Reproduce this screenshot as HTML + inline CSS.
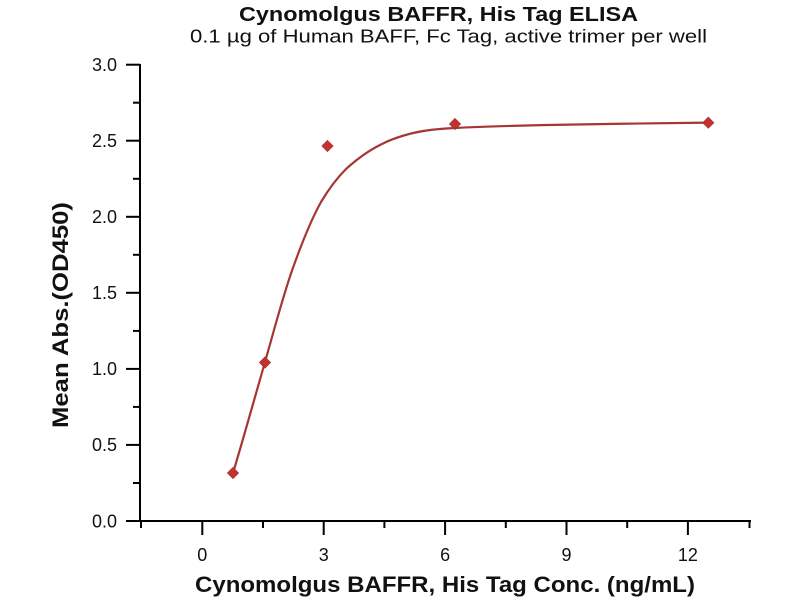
<!DOCTYPE html>
<html>
<head>
<meta charset="utf-8">
<style>
  html, body { margin:0; padding:0; background:#ffffff; }
  body { width:800px; height:600px; overflow:hidden; }
  svg text { font-family: "Liberation Sans", "DejaVu Sans", sans-serif; fill:#111; }
</style>
</head>
<body>
<svg width="800" height="600" viewBox="0 0 800 600" xmlns="http://www.w3.org/2000/svg">
  <rect width="800" height="600" fill="#ffffff"/>

  <!-- Title -->
  <text x="239" y="21" font-size="20" font-weight="bold" textLength="399" lengthAdjust="spacingAndGlyphs">Cynomolgus BAFFR, His Tag ELISA</text>
  <text x="190" y="42.5" font-size="18" textLength="517" lengthAdjust="spacingAndGlyphs">0.1 µg of Human BAFF, Fc Tag, active trimer per well</text>

  <!-- Axes -->
  <g stroke="#000" stroke-width="2" fill="none">
    <line x1="140" y1="64" x2="140" y2="522"/>
    <line x1="139" y1="521" x2="751" y2="521"/>
    <!-- y major ticks -->
    <line x1="126" y1="64.7" x2="140" y2="64.7"/>
    <line x1="126" y1="140.7" x2="140" y2="140.7"/>
    <line x1="126" y1="216.8" x2="140" y2="216.8"/>
    <line x1="126" y1="292.8" x2="140" y2="292.8"/>
    <line x1="126" y1="368.9" x2="140" y2="368.9"/>
    <line x1="126" y1="444.9" x2="140" y2="444.9"/>
    <line x1="126" y1="521" x2="140" y2="521"/>
    <!-- y minor ticks -->
    <line x1="133" y1="102.7" x2="140" y2="102.7"/>
    <line x1="133" y1="178.8" x2="140" y2="178.8"/>
    <line x1="133" y1="254.8" x2="140" y2="254.8"/>
    <line x1="133" y1="330.9" x2="140" y2="330.9"/>
    <line x1="133" y1="406.9" x2="140" y2="406.9"/>
    <line x1="133" y1="483" x2="140" y2="483"/>
    <!-- x major ticks -->
    <line x1="202.3" y1="521" x2="202.3" y2="535"/>
    <line x1="323.7" y1="521" x2="323.7" y2="535"/>
    <line x1="445.1" y1="521" x2="445.1" y2="535"/>
    <line x1="566.5" y1="521" x2="566.5" y2="535"/>
    <line x1="687.9" y1="521" x2="687.9" y2="535"/>
    <!-- x minor ticks -->
    <line x1="141" y1="521" x2="141" y2="528"/>
    <line x1="263" y1="521" x2="263" y2="528"/>
    <line x1="384.4" y1="521" x2="384.4" y2="528"/>
    <line x1="505.8" y1="521" x2="505.8" y2="528"/>
    <line x1="627.2" y1="521" x2="627.2" y2="528"/>
    <line x1="749.5" y1="521" x2="749.5" y2="528"/>
  </g>

  <!-- y tick labels -->
  <g font-size="18" text-anchor="end">
    <text x="117" y="71">3.0</text>
    <text x="117" y="147">2.5</text>
    <text x="117" y="223.1">2.0</text>
    <text x="117" y="299.1">1.5</text>
    <text x="117" y="375.2">1.0</text>
    <text x="117" y="451.2">0.5</text>
    <text x="117" y="527.3">0.0</text>
  </g>

  <!-- x tick labels -->
  <g font-size="18" text-anchor="middle">
    <text x="202.3" y="561">0</text>
    <text x="323.7" y="561">3</text>
    <text x="445.1" y="561">6</text>
    <text x="566.5" y="561">9</text>
    <text x="687.9" y="561">12</text>
  </g>

  <!-- axis labels -->
  <text x="195" y="592" font-size="22" font-weight="bold" textLength="500" lengthAdjust="spacingAndGlyphs">Cynomolgus BAFFR, His Tag Conc. (ng/mL)</text>
  <text transform="translate(68,428) rotate(-90)" x="0" y="0" font-size="22" font-weight="bold" textLength="226" lengthAdjust="spacingAndGlyphs">Mean Abs.(OD450)</text>

  <!-- fitted curve -->
  <path d="M233,473 C240,450 255,397 265,362
           C275,327 284,292 294,265
           C303,240 311,220 321,202
           C330,187 337,178 346,169
           C356,160 368,151 380,145
           C391,139 401,136 413,133
           C426,130 437,129 455,128
           C477,126.8 505,125.9 547,125
           C589,124.1 681,122.9 708.3,122.6"
        fill="none" stroke="#a53636" stroke-width="2.2" stroke-linecap="round" stroke-linejoin="round"/>

  <!-- data markers -->
  <g fill="#c4322d" stroke="#a83030" stroke-width="0.8">
    <polygon points="233,467.5 238.5,473 233,478.5 227.5,473"/>
    <polygon points="265,357 270.5,362.5 265,368 259.5,362.5"/>
    <polygon points="327.5,140.5 333,146 327.5,151.5 322,146"/>
    <polygon points="455,118.5 460.5,124 455,129.5 449.5,124"/>
    <polygon points="708.3,117.2 713.8,122.7 708.3,128.2 702.8,122.7"/>
  </g>
</svg>
</body>
</html>
